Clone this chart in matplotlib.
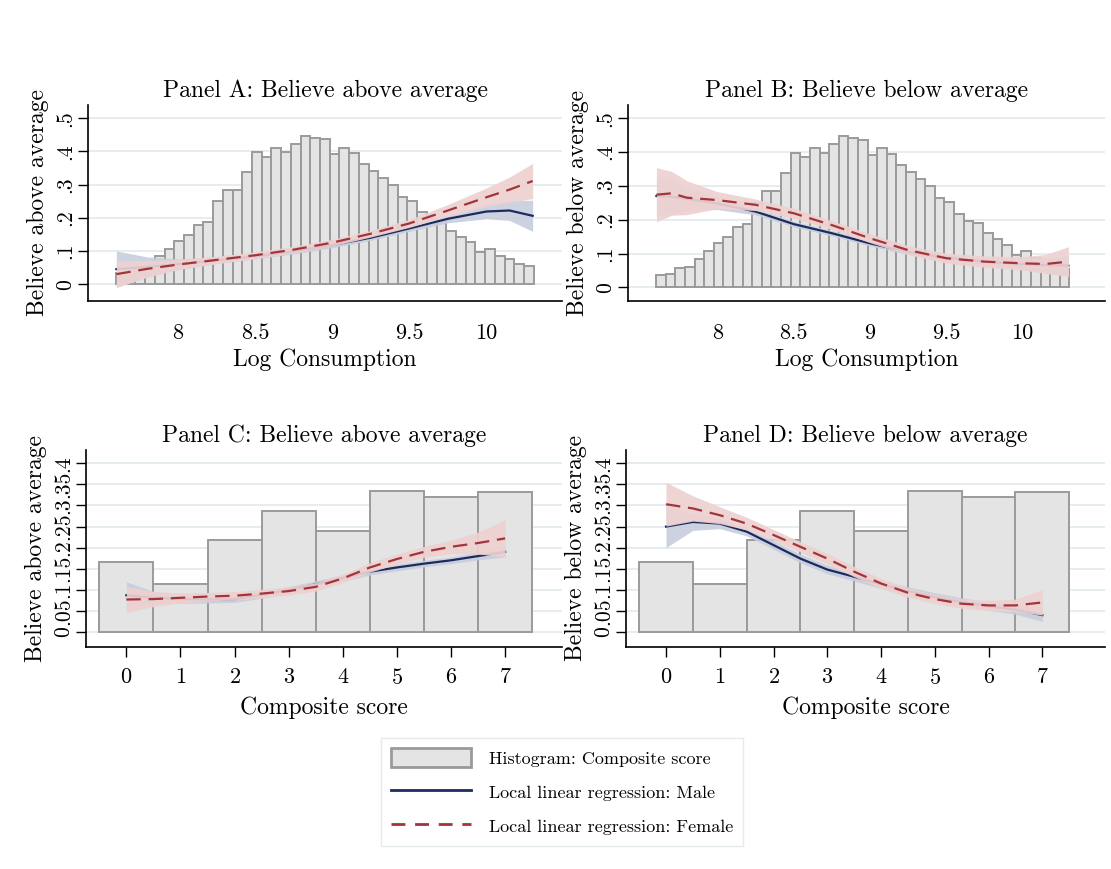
import numpy as np
import matplotlib
matplotlib.use("Agg")
import matplotlib.pyplot as plt
from matplotlib.patches import Patch
from matplotlib.lines import Line2D

plt.rcParams['font.family'] = ['cmr10', 'DejaVu Serif']
plt.rcParams['axes.formatter.use_mathtext'] = True

# ---- histogram of log consumption (same in panels A and B) ----
cons_bin_start = 7.598
cons_bin_width = 0.063
cons_hist = [0.035, 0.038, 0.056, 0.060, 0.085, 0.106, 0.131, 0.148, 0.179, 0.187,
             0.250, 0.284, 0.284, 0.338, 0.398, 0.384, 0.411, 0.398, 0.423, 0.448,
             0.441, 0.437, 0.391, 0.412, 0.394, 0.362, 0.341, 0.319, 0.299, 0.263,
             0.251, 0.217, 0.197, 0.189, 0.160, 0.142, 0.126, 0.097, 0.107, 0.086,
             0.076, 0.061, 0.055]

# ---- histogram of composite score (panels C and D) ----
score_vals = [0, 1, 2, 3, 4, 5, 6, 7]
score_hist = [0.165, 0.113, 0.218, 0.287, 0.240, 0.335, 0.320, 0.332]

# ---- panel A: local linear fits ----
a_x = [7.60, 7.80, 8.00, 8.25, 8.50, 8.75, 9.00, 9.25, 9.50, 9.75, 10.00, 10.15, 10.30]
a_fem = [0.030, 0.046, 0.059, 0.073, 0.087, 0.104, 0.125, 0.152, 0.183, 0.222, 0.262, 0.285, 0.311]
a_fem_hw = [0.040, 0.025, 0.015, 0.011, 0.010, 0.010, 0.010, 0.010, 0.012, 0.018, 0.028, 0.038, 0.053]
a_male = [0.045, 0.052, 0.060, 0.072, 0.084, 0.099, 0.118, 0.140, 0.168, 0.197, 0.219, 0.222, 0.206]
a_male_hw = [0.055, 0.030, 0.016, 0.010, 0.008, 0.008, 0.008, 0.008, 0.009, 0.012, 0.022, 0.030, 0.047]

# ---- panel B ----
b_x = [7.60, 7.70, 7.80, 8.00, 8.25, 8.50, 8.75, 9.00, 9.25, 9.50, 9.75, 10.00, 10.15, 10.30]
b_fem = [0.274, 0.278, 0.265, 0.258, 0.244, 0.219, 0.184, 0.145, 0.110, 0.086, 0.076, 0.071, 0.069, 0.076]
b_fem_hw = [0.080, 0.065, 0.050, 0.025, 0.017, 0.015, 0.013, 0.013, 0.013, 0.015, 0.017, 0.020, 0.028, 0.044]
b_male = [0.270, 0.268, 0.262, 0.248, 0.224, 0.187, 0.160, 0.130, 0.105, 0.088, 0.076, 0.068, 0.066, 0.064]
b_male_hw = [0.060, 0.050, 0.035, 0.018, 0.010, 0.008, 0.008, 0.008, 0.008, 0.009, 0.010, 0.014, 0.020, 0.030]

# ---- panels C and D ----
cd_x = [0, 0.5, 1, 1.5, 2, 2.5, 3, 3.5, 4, 4.5, 5, 5.5, 6, 6.5, 7]
c_fem = [0.077, 0.078, 0.081, 0.084, 0.086, 0.091, 0.097, 0.107, 0.127, 0.153, 0.173, 0.190, 0.202, 0.211, 0.222]
c_fem_hw = [0.031, 0.018, 0.012, 0.010, 0.010, 0.010, 0.010, 0.010, 0.010, 0.011, 0.012, 0.013, 0.016, 0.026, 0.044]
c_male = [0.087, 0.081, 0.078, 0.077, 0.078, 0.088, 0.100, 0.113, 0.128, 0.143, 0.153, 0.162, 0.170, 0.180, 0.190]
c_male_hw = [0.032, 0.015, 0.010, 0.008, 0.008, 0.008, 0.008, 0.008, 0.008, 0.008, 0.008, 0.008, 0.008, 0.009, 0.012]

d_fem = [0.303, 0.293, 0.277, 0.257, 0.230, 0.202, 0.174, 0.143, 0.115, 0.093, 0.078, 0.067, 0.063, 0.063, 0.070]
d_fem_hw = [0.052, 0.030, 0.020, 0.015, 0.013, 0.012, 0.012, 0.012, 0.012, 0.011, 0.011, 0.011, 0.012, 0.015, 0.030]
d_male = [0.250, 0.261, 0.257, 0.238, 0.206, 0.174, 0.148, 0.131, 0.113, 0.097, 0.083, 0.071, 0.061, 0.053, 0.040]
d_male_hw = [0.050, 0.020, 0.012, 0.010, 0.010, 0.010, 0.010, 0.010, 0.010, 0.010, 0.010, 0.010, 0.010, 0.011, 0.015]

cons_ticks = [8, 8.5, 9, 9.5, 10]
cons_ticklabels = ['8', '8.5', '9', '9.5', '10']
yticks_ab = [0, 0.1, 0.2, 0.3, 0.4, 0.5]
ylabels_ab = ['0', '.1', '.2', '.3', '.4', '.5']
yticks_cd = [0, 0.05, 0.1, 0.15, 0.2, 0.25, 0.3, 0.35, 0.4]
ylabels_cd = ['0', '.05', '.1', '.15', '.2', '.25', '.3', '.35', '.4']

NAVY = '#1b2b5e'
RED = '#a3343a'
MALE_BAND = '#c8cddd'
FEM_BAND = '#eed1d1'
BAR_FACE = '#e4e4e4'
BAR_EDGE = '#9a9a9a'
GRID = '#e3ecf0'
DASH = (6.5, 3.5)

fig = plt.figure(figsize=(11.11, 8.69), dpi=100)

positions = {
    'A': [0.0792, 0.6536, 0.4266, 0.2255],
    'B': [0.5653, 0.6536, 0.4293, 0.2255],
    'C': [0.0774, 0.2555, 0.4284, 0.2267],
    'D': [0.5635, 0.2555, 0.4311, 0.2267],
}


def fits(ax, x, male, male_hw, fem, fem_hw):
    x = np.array(x)
    male, male_hw = np.array(male), np.array(male_hw)
    fem, fem_hw = np.array(fem), np.array(fem_hw)
    # male band and line first, the female band sits on top of them
    ax.fill_between(x, male - male_hw, male + male_hw, color=MALE_BAND, lw=0, alpha=0.9, zorder=3)
    ax.plot(x, male, color=NAVY, lw=1.6, zorder=4)
    ax.fill_between(x, fem - fem_hw, fem + fem_hw, color=FEM_BAND, lw=0, alpha=0.92, zorder=5)
    ax.plot(x, fem, color=RED, lw=1.6, dashes=DASH, zorder=6)


def style(ax, yticks, ylabels, ylabel, title):
    for s in ['top', 'right']:
        ax.spines[s].set_visible(False)
    ax.spines['left'].set_linewidth(1.2)
    ax.spines['bottom'].set_linewidth(1.2)
    ax.set_yticks(yticks)
    ax.set_yticklabels(ylabels, rotation=90, va='center')
    ax.tick_params(axis='y', length=7, width=1.0, labelsize=15.5, pad=2)
    ax.yaxis.grid(True, color=GRID, lw=1.3)
    ax.set_axisbelow(True)
    ax.set_ylabel(ylabel, fontsize=17, labelpad=5)
    ax.set_title(title, fontsize=17, pad=6)


# panels A and B
for key, x, m, mhw, f, fhw, ylab, title, xlim, ylim in [
        ('A', a_x, a_male, a_male_hw, a_fem, a_fem_hw, 'Believe above average',
         'Panel A: Believe above average', (7.416, 10.49), (-0.051, 0.54)),
        ('B', b_x, b_male, b_male_hw, b_fem, b_fem_hw, 'Believe below average',
         'Panel B: Believe below average', (7.414, 10.54), (-0.0405, 0.539))]:
    ax = fig.add_axes(positions[key])
    lefts = cons_bin_start + cons_bin_width * np.arange(len(cons_hist))
    ax.bar(lefts, cons_hist, width=cons_bin_width, align='edge',
           color=BAR_FACE, edgecolor=BAR_EDGE, lw=1.4, zorder=2)
    fits(ax, x, m, mhw, f, fhw)
    ax.set_xlim(*xlim)
    ax.set_ylim(*ylim)
    ax.set_xticks(cons_ticks)
    ax.set_xticklabels(cons_ticklabels)
    ax.tick_params(axis='x', length=0, labelsize=16, pad=16)
    style(ax, yticks_ab, ylabels_ab, ylab, title)
    ax.set_xlabel('Log Consumption', fontsize=17, labelpad=4)

# panels C and D
for key, m, mhw, f, fhw, ylab, title, xlim in [
        ('C', c_male, c_male_hw, c_fem, c_fem_hw, 'Believe above average',
         'Panel C: Believe above average', (-0.746, 8.05)),
        ('D', d_male, d_male_hw, d_fem, d_fem_hw, 'Believe below average',
         'Panel D: Believe below average', (-0.743, 8.165))]:
    ax = fig.add_axes(positions[key])
    ax.bar(score_vals, score_hist, width=1.0, color=BAR_FACE,
           edgecolor=BAR_EDGE, lw=1.4, zorder=2)
    fits(ax, cd_x, m, mhw, f, fhw)
    ax.set_xlim(*xlim)
    ax.set_ylim(-0.0356, 0.4317)
    ax.set_xticks(score_vals)
    ax.tick_params(axis='x', length=7, width=1.0, labelsize=16, pad=8)
    style(ax, yticks_cd, ylabels_cd, ylab, title)
    ax.set_xlabel('Composite score', fontsize=17, labelpad=6)

handles = [Patch(facecolor=BAR_FACE, edgecolor=BAR_EDGE, lw=2),
           Line2D([], [], color=NAVY, lw=2),
           Line2D([], [], color=RED, lw=2, dashes=(5, 3.5))]
labels = ['Histogram: Composite score', 'Local linear regression: Male',
          'Local linear regression: Female']
leg = fig.legend(handles, labels, loc='center', bbox_to_anchor=(0.506, 0.089),
                 fontsize=13, frameon=True, fancybox=False, handlelength=4.4,
                 handleheight=1.3, labelspacing=0.8, handletextpad=1.0,
                 borderpad=0.55)
leg.get_frame().set_edgecolor('#dde6ea')
leg.get_frame().set_linewidth(1.0)

fig.savefig('out.png', dpi=100)
